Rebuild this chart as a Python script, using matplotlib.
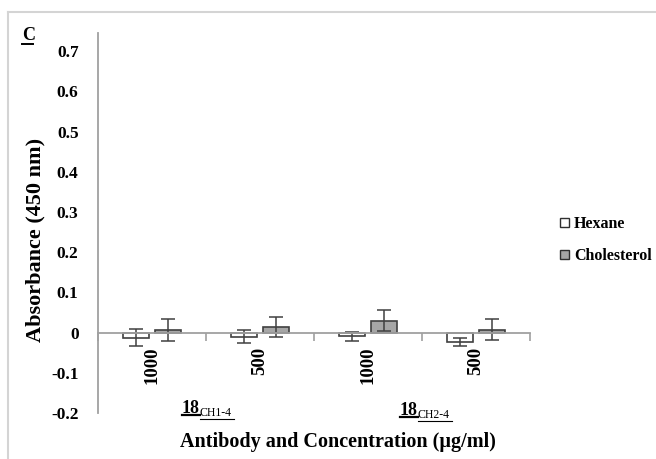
import numpy as np
import matplotlib
matplotlib.use("Agg")
import matplotlib.pyplot as plt
from matplotlib.lines import Line2D
from matplotlib.patches import Patch

plt.rcParams['font.family'] = ['Liberation Serif', 'DejaVu Serif']
plt.rcParams['font.weight'] = 'bold'

concentrations = ['1000', '500', '1000', '500']
hexane = [-0.013, -0.010, -0.009, -0.024]
hexane_err = [0.021, 0.016, 0.011, 0.010]
cholesterol = [0.007, 0.014, 0.030, 0.007]
cholesterol_err = [0.028, 0.024, 0.027, 0.026]
antibodies = ['CH1-4', 'CH2-4']

W, H = 656, 459
fig = plt.figure(figsize=(W / 100, H / 100), dpi=100)
ax = fig.add_axes([98 / W, 1 - 413 / H, 432 / W, 380 / H])

x = np.arange(len(concentrations))
bw = 0.245
off = 0.147
edge = '#404040'
ax.bar(x - off, hexane, bw, color='white', edgecolor=edge, linewidth=1.2,
       yerr=hexane_err, error_kw=dict(ecolor=edge, elinewidth=1.1, capsize=5, capthick=1.1))
ax.bar(x + off, cholesterol, bw, color='#a6a6a6', edgecolor=edge, linewidth=1.2,
       yerr=cholesterol_err, error_kw=dict(ecolor=edge, elinewidth=1.1, capsize=5, capthick=1.1))

ax.set_xlim(-0.5, len(concentrations) - 0.5)
ax.set_ylim(-0.2, 0.745)
ax.set_yticks(np.round(np.arange(-0.2, 0.71, 0.1), 1))
ax.set_yticklabels(['-0.2', '-0.1', '0', '0.1', '0.2', '0.3', '0.4', '0.5', '0.6', '0.7'])

for s in ['top', 'right']:
    ax.spines[s].set_visible(False)
ax.spines['bottom'].set_position(('data', 0))
ax.spines['bottom'].set_color('#a0a0a0')
ax.spines['left'].set_color('#a0a0a0')
ax.spines['bottom'].set_linewidth(1.3)
ax.spines['left'].set_linewidth(1.3)

ax.set_xticks(x)
ax.set_xticklabels(concentrations, rotation=90, fontsize=13.5, fontweight='bold', va='top')
ax.set_xticks(np.arange(-0.5, len(concentrations)), minor=True)
ax.tick_params(axis='x', which='major', length=0, pad=10)
ax.tick_params(axis='x', which='minor', length=6, width=1.2, color='#a0a0a0')
ax.tick_params(axis='y', length=0, pad=14, labelsize=12.5)
for t in ax.get_yticklabels():
    t.set_fontweight('bold')

fig.text(35 / W, 1 - 240 / H, 'Absorbance (450 nm)', rotation=90, fontsize=16,
         fontweight='bold', ha='center', va='center')
fig.text(338 / W, 1 - 442 / H, 'Antibody and Concentration (\u00b5g/ml)', fontsize=14.5,
         fontweight='bold', ha='center', va='center')

# antibody group labels with underline
for x0, ytop, name in [(182, 399, antibodies[0]), (400, 401, antibodies[1])]:
    fig.text(x0 / W, 1 - (ytop + 14) / H, '18', fontsize=13, fontweight='bold',
             ha='left', va='baseline')
    fig.text((x0 + 18) / W, 1 - (ytop + 17) / H, name, fontsize=8.5, fontweight='normal',
             ha='left', va='baseline')
    fig.add_artist(Line2D([x0 / W, (x0 + 18) / W], [1 - (ytop + 16) / H] * 2,
                          color='black', lw=1.6, transform=fig.transFigure))
    fig.add_artist(Line2D([(x0 + 18) / W, (x0 + 52) / W], [1 - (ytop + 20) / H] * 2,
                          color='black', lw=0.8, transform=fig.transFigure))

# panel letter
fig.text(22 / W, 1 - 40 / H, 'C', fontsize=13, fontweight='bold', ha='left', va='baseline')
fig.add_artist(Line2D([22 / W, 33 / W], [1 - 44 / H] * 2, color='black', lw=1.4,
                      transform=fig.transFigure))

# outer frame
fig.add_artist(Line2D([8 / W, 1], [1 - 12 / H] * 2, color='#d4d4d4', lw=1.5,
                      transform=fig.transFigure))
fig.add_artist(Line2D([8 / W, 8 / W], [0, 1 - 12 / H], color='#d4d4d4', lw=1.5,
                      transform=fig.transFigure))

handles = [Patch(facecolor='white', edgecolor='#303030', lw=1.0),
           Patch(facecolor='#a6a6a6', edgecolor='#303030', lw=1.0)]
fig.legend(handles, ['Hexane', 'Cholesterol'], loc='center left',
           bbox_to_anchor=(546 / W, 1 - 240 / H), frameon=False,
           handlelength=0.55, handleheight=0.55, handletextpad=0.3, labelspacing=1.0,
           prop=dict(weight='bold', size=11.5))

fig.savefig('out.png', dpi=100)
